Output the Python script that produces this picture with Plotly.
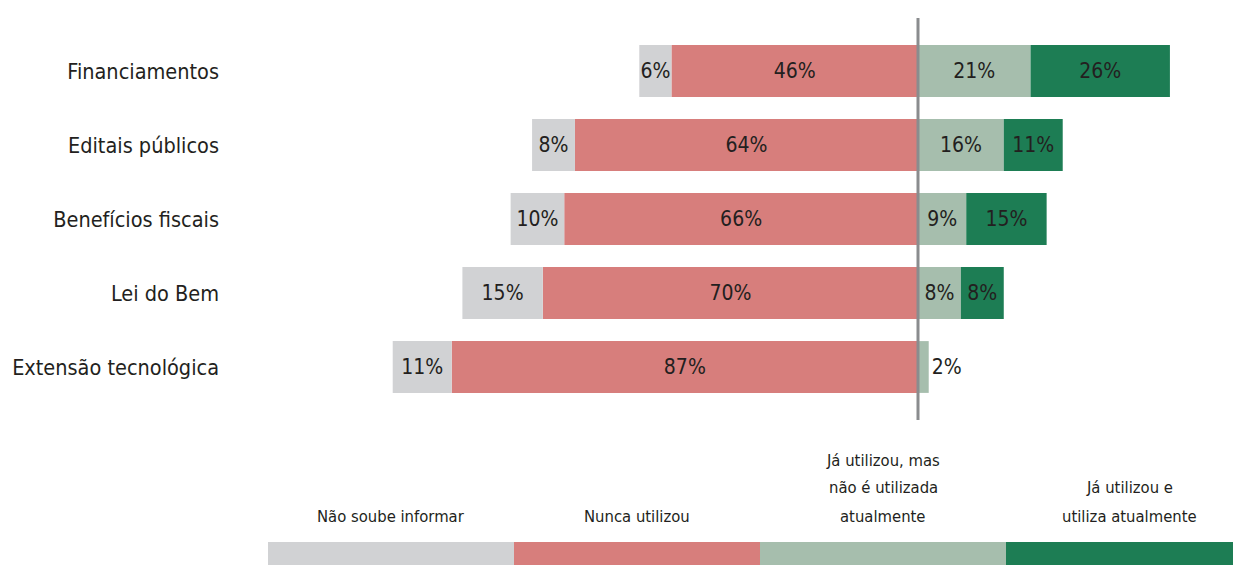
import plotly.graph_objects as go

categories = ["Financiamentos", "Editais públicos", "Benefícios fiscais", "Lei do Bem", "Extensão tecnológica"]
nao_soube = [6, 8, 10, 15, 11]
nunca = [46, 64, 66, 70, 87]
ja_nao_atual = [21, 16, 9, 8, 2]
ja_atual = [26, 11, 15, 8, 0]

series_names = ["Não soube informar", "Nunca utilizou", "Já utilizou, mas não é utilizada atualmente", "Já utilizou e utiliza atualmente"]
legend_lines = [["Não soube informar"], ["Nunca utilizou"], ["Já utilizou, mas", "não é utilizada", "atualmente"], ["Já utilizou e", "utiliza atualmente"]]
colors = ["#D1D2D4", "#D77E7C", "#A6BEAD", "#1D7D54"]

FONT = "DejaVu Sans Condensed, Liberation Sans Narrow, sans-serif"
TXT = "#231F20"

# page body has an 8px default margin; work in page pixels and subtract it
OFF = 8
PAGE_W, PAGE_H = 1241, 565
W, H = PAGE_W - OFF, PAGE_H - OFF

def fx(p):
    return p - OFF

plot_left, plot_right = fx(225), W
plot_top, plot_bottom = fx(18), fx(420)
ML, MR, MT, MB = plot_left, W - plot_right, plot_top, H - plot_bottom

PX_PER = 5.36
ZERO_PX = fx(918)
xr = [(plot_left - ZERO_PX) / PX_PER, (plot_right - ZERO_PX) / PX_PER]
ypos = list(range(len(categories)))
unit = 74
first_center = fx(71)
ymin = -(first_center - plot_top) / unit
ymax = (plot_bottom - first_center) / unit

fig = go.Figure()

def add(vals, sign, color, name, positions):
    fig.add_trace(go.Bar(
        y=ypos, x=[sign * v if v else None for v in vals], orientation="h",
        marker=dict(color=color, line=dict(width=0)), name=name,
        text=[f"{v}%" if v else "" for v in vals],
        textposition=positions, insidetextanchor="middle", textangle=0,
        constraintext="none", cliponaxis=False,
        textfont=dict(family=FONT, size=21, color=TXT),
        width=0.70, showlegend=False, hoverinfo="skip",
    ))

add(nunca, -1, colors[1], series_names[1], "inside")
add(nao_soube, -1, colors[0], series_names[0], "inside")
add(ja_nao_atual, 1, colors[2], series_names[2], ["inside" if v >= 5 else "outside" for v in ja_nao_atual])
add(ja_atual, 1, colors[3], series_names[3], "inside")

fig.add_shape(type="line", xref="x", yref="paper", x0=0, x1=0, y0=0, y1=1,
              line=dict(color="#8A8C8E", width=3), layer="above")

plot_w = plot_right - plot_left
plot_h = plot_bottom - plot_top
def px_x(p):
    return (fx(p) - plot_left) / plot_w
def px_y(p):
    return (plot_bottom - fx(p)) / plot_h

sw_left = 268
sw_w = 246
for i, c in enumerate(colors):
    x0 = sw_left + i * sw_w
    fig.add_shape(type="rect", xref="paper", yref="paper",
                  x0=px_x(x0), x1=px_x(x0 + sw_w), y0=px_y(570), y1=px_y(542),
                  fillcolor=c, line=dict(width=0))
    lines = legend_lines[i]
    n = len(lines)
    for j, ln in enumerate(lines):
        yc = 516 - (n - 1 - j) * 28
        fig.add_annotation(xref="paper", yref="paper", x=px_x(x0 + sw_w / 2), y=px_y(yc),
                           text=ln, showarrow=False, xanchor="center", yanchor="middle",
                           font=dict(family=FONT, size=16.5, color=TXT))

fig.update_layout(
    width=W, height=H, barmode="relative", bargap=0.3,
    margin=dict(l=ML, r=MR, t=MT, b=MB, autoexpand=False),
    paper_bgcolor="white", plot_bgcolor="white",
    xaxis=dict(range=xr, visible=False, fixedrange=True, automargin=False),
    yaxis=dict(range=[ymax, ymin], tickvals=ypos, ticktext=categories,
               showgrid=False, zeroline=False, showline=False, ticks="",
               ticklabelstandoff=5, automargin=False,
               tickfont=dict(family=FONT, size=21.5, color=TXT), fixedrange=True),
)

fig.write_html("out.html")
